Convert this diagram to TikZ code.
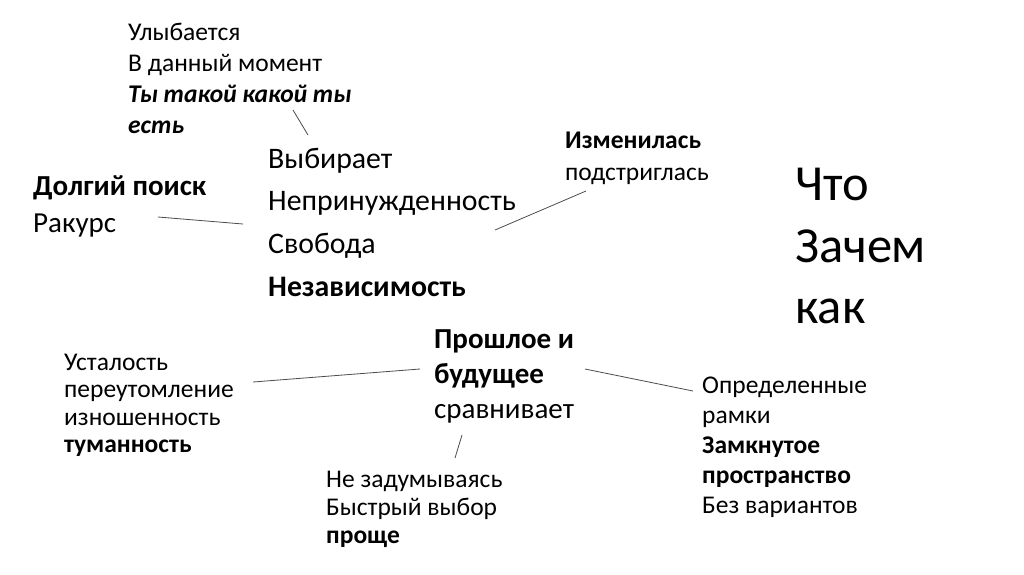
\documentclass[tikz,border=0pt]{standalone}
\usepackage{fontspec}
\setmainfont{Carlito}
\tikzset{
  x=1pt, y=-1pt,
  small/.style={anchor=base west, inner sep=0pt, font=\fontsize{25.5}{30}\selectfont},
  medium/.style={anchor=base west, inner sep=0pt, font=\fontsize{29.8}{36}\selectfont},
  mid/.style={anchor=base west, inner sep=0pt, font=\fontsize{29}{35}\selectfont},
  big/.style={anchor=base west, inner sep=0pt, font=\fontsize{50.5}{60}\selectfont},
  link/.style={draw=black!70, line width=0.8pt}
}
\begin{document}
\begin{tikzpicture}
\useasboundingbox[fill=white] (0,0) rectangle (1024,574);
% top block
\node[small] (ta) at (128,40) {Улыбается};
\node[small] (tb) at (128,71) {В данный момент};
\node[small] (tc) at (128,102) {\bfseries\itshape Ты такой какой ты};
\node[small] (td) at (128,133) {\bfseries\itshape есть};
% medium block
\node[medium] (ma) at (268,168) {Выбирает};
\node[medium] (mb) at (268,210) {Непринужденность};
\node[medium] (mc) at (268,253) {Свобода};
\node[medium] (md) at (268,296) {\bfseries Независимость};
% left
\node[mid] (la) at (33,195) {\bfseries Долгий поиск};
\node[mid] (lb) at (33,232) {Ракурс};
% Изменилась
\node[small] (ia) at (565,148) {\bfseries Изменилась};
\node[small] (ib) at (565,180) {подстриглась};
% big
\node[big] (ba) at (795,200) {Что};
\node[big] (bb) at (795,262) {Зачем};
\node[big] (bc) at (795,323) {как};
% Прошлое
\node[mid] (pa) at (434,348) {\bfseries Прошлое и};
\node[mid] (pb) at (434,383) {\bfseries будущее};
\node[mid] (pc) at (434,418) {сравнивает};
% Усталость
\node[small] (ua) at (64,370) {Усталость};
\node[small] (ub) at (64,397) {переутомление};
\node[small] (uc) at (64,425) {изношенность};
\node[small] (ud) at (64,452) {\bfseries туманность};
% Не задумываясь
\node[small] (na) at (326,487) {Не задумываясь};
\node[small] (nb) at (326,515) {Быстрый выбор};
\node[small] (nc) at (326,543) {\bfseries проще};
% Определенные
\node[small] (oa) at (702,393) {Определенные};
\node[small] (ob) at (702,423) {рамки};
\node[small] (oc) at (702,453) {\bfseries Замкнутое};
\node[small] (od) at (702,483) {\bfseries пространство};
\node[small] (oe) at (702,513) {Без вариантов};
% connector ends
\coordinate (c1a) at (293,110); \coordinate (c1b) at (308,135);
\coordinate (c2a) at (158,217); \coordinate (c2b) at (243,224);
\coordinate (c3a) at (495,230); \coordinate (c3b) at (586,191);
\coordinate (c4a) at (253,382); \coordinate (c4b) at (420,369);
\coordinate (c5a) at (585,369); \coordinate (c5b) at (693,391);
\coordinate (c6a) at (462,435); \coordinate (c6b) at (455,458);
\draw[link] (c1a) -- (c1b);
\draw[link] (c2a) -- (c2b);
\draw[link] (c3a) -- (c3b);
\draw[link] (c4a) -- (c4b);
\draw[link] (c5a) -- (c5b);
\draw[link] (c6a) -- (c6b);
\end{tikzpicture}
\end{document}
